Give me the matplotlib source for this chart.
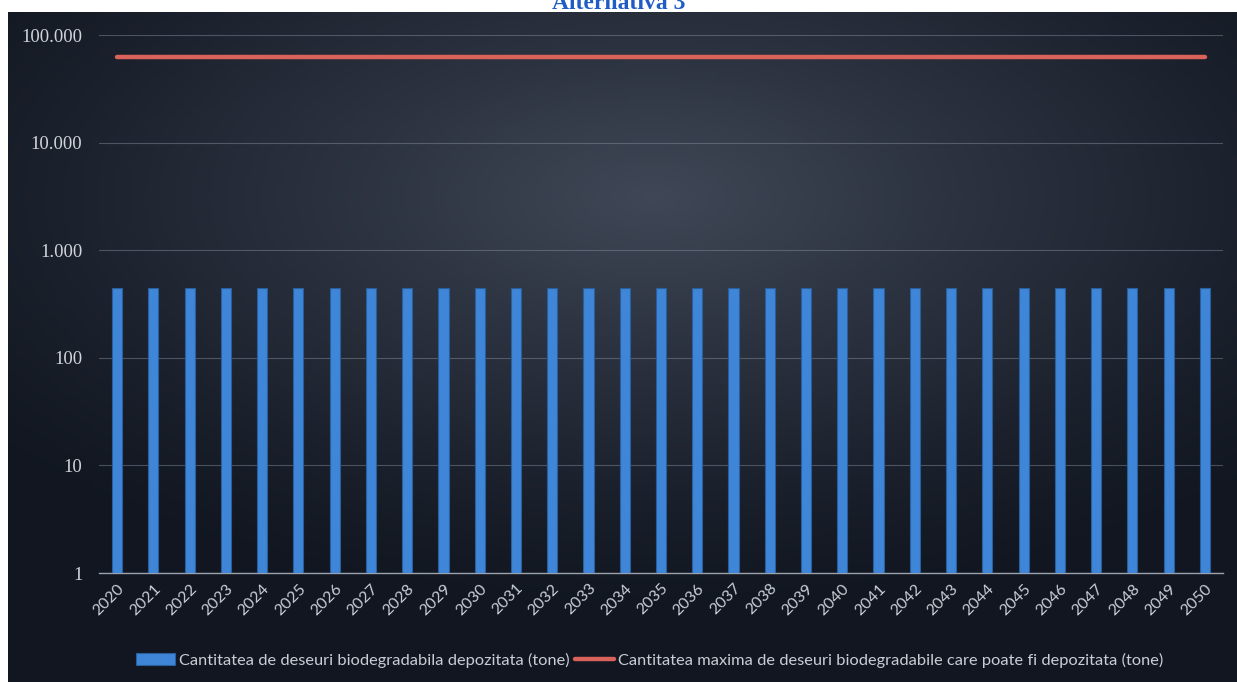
import matplotlib.pyplot as plt
import numpy as np
from matplotlib.ticker import FixedLocator, FuncFormatter, NullLocator

# Data
years = [str(y) for y in range(2020, 2051)]
deposited = [445] * 31          # Cantitatea de deseuri biodegradabila depozitata (tone)
max_allowed = [62500] * 31      # Cantitatea maxima ... care poate fi depozitata (tone)
y_ticks = [1, 10, 100, 1000, 10000, 100000]

W, H = 1237, 682
fig = plt.figure(figsize=(W / 100, H / 100), dpi=100)
fig.patch.set_facecolor("white")

# dark panel with soft glow
bg = fig.add_axes([8 / W, 0, 1 - 8 / W, 1 - 12 / H])
gx, gy = np.meshgrid(np.linspace(-1, 1, 300), np.linspace(-1, 1, 200))
r = np.sqrt((gx - 0.05) ** 2 * 0.8 + (gy - 0.45) ** 2 * 1.0)
glow = np.clip(1 - r / 1.2, 0, 1)
base = np.array([0.07, 0.09, 0.13])
light = np.array([0.25, 0.28, 0.34])
img = base + (light - base) * glow[..., None] ** 1.2
bg.imshow(img, aspect="auto", extent=[0, 1, 0, 1], origin="lower")
bg.set_axis_off()

# title, cut off at the top edge as in the source
fig.text(0.5, 1 - 9 / H, "Alternativa 3", ha="center", va="baseline",
         fontsize=17, fontweight="bold", family="Liberation Serif", color="#1f5cc4")

ax = fig.add_axes([99 / W, 1 - 573 / H, 1124 / W, 538 / H])
ax.patch.set_alpha(0)
x = np.arange(len(years))

bars = ax.bar(x, deposited, width=0.28, color="#3f86d8", edgecolor="#2a5f9e", linewidth=0.8,
              label="Cantitatea de deseuri biodegradabila depozitata (tone)", zorder=3)
line, = ax.plot(x, max_allowed, color="#d9625a", linewidth=3.2, solid_capstyle="round",
                label="Cantitatea maxima de deseuri biodegradabile care poate fi depozitata (tone)",
                zorder=4)

ax.set_yscale("log")
ax.set_ylim(1, 100000)
ax.set_xlim(-0.5, len(years) - 0.5)
ax.yaxis.set_major_locator(FixedLocator(y_ticks))
ax.yaxis.set_minor_locator(NullLocator())
ax.yaxis.set_major_formatter(FuncFormatter(lambda v, p: f"{int(v):,}".replace(",", ".")))
ax.grid(axis="y", color="#8a93a3", linewidth=0.8, alpha=0.45, zorder=0)

ax.set_xticks(x)
ax.set_xticklabels(years, rotation=45, ha="right", rotation_mode="anchor",
                   fontsize=11.5, family="Lato", color="#c9ced6")
for lbl in ax.get_yticklabels():
    lbl.set_family("Liberation Serif")
    lbl.set_fontsize(13.5)
    lbl.set_color("#d0d4da")
ax.tick_params(axis="both", length=0)
ax.tick_params(axis="y", pad=12)
ax.tick_params(axis="x", pad=6)

for side in ("top", "right", "left"):
    ax.spines[side].set_visible(False)
ax.spines["bottom"].set_color("#9aa2ae")
ax.spines["bottom"].set_linewidth(1.0)

leg = fig.legend(handles=[bars, line], loc="center", bbox_to_anchor=(0.525, 1 - 660 / H),
                 ncol=2, frameon=False, handlelength=2.4, handletextpad=0.25,
                 columnspacing=0.3, prop={"family": "Lato", "size": 11.8})
for t in leg.get_texts():
    t.set_color("#c9ced6")

fig.savefig("out.png", dpi=100, facecolor=fig.get_facecolor())
